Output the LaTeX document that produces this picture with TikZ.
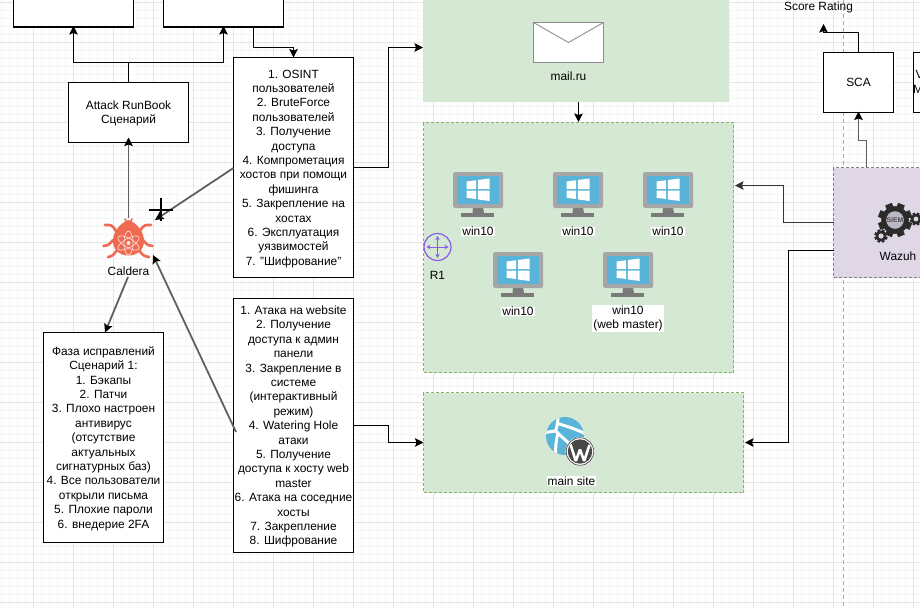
\documentclass[tikz,border=0pt]{standalone}
\usepackage{fontspec}
\setmainfont{Liberation Sans}
\usetikzlibrary{arrows.meta,calc}
\definecolor{grn}{HTML}{D5E8D4}
\definecolor{grnl}{HTML}{82B366}
\definecolor{lil}{HTML}{DFD6E6}
\definecolor{monout}{HTML}{A6A6A6}
\definecolor{monst}{HTML}{7A7A7A}
\definecolor{scr}{HTML}{59B4D9}
\definecolor{bug}{HTML}{EF6A50}
\definecolor{purp}{HTML}{8A5CE6}
\definecolor{gearc}{HTML}{2B2B2B}
\newcommand{\firstline}{\rule{0pt}{10.8pt}}
\tikzset{
  x=1pt,y=-1pt,
  every node/.style={font=\fontsize{11.9}{14.4}\selectfont,inner sep=0pt,outer sep=0pt,align=center,text=black},
  textbox/.style={draw=black,fill=white,line width=1.1pt,minimum width=120pt},
  area/.style={fill=grn,draw=grnl,dashed,dash pattern=on 3pt off 2pt,line width=.8pt},
  plainarea/.style={fill=grn},
  lbl/.style={fill=white,inner xsep=1pt,inner ysep=.5pt},
  conn/.style={draw=black,line width=1.1pt,-{Stealth[length=8.5pt,width=8.5pt,inset=1.5pt]}},
  plain/.style={draw=black,line width=1.1pt},
  gconn/.style={draw=black!62,line width=1.8pt,-{Stealth[length=8.5pt,width=8.5pt,inset=1.5pt,color=black]}},
  monitor/.pic={
    \fill[monst] (-5,35) -- (5,35) -- (6,41) -- (-5.5,41) -- cycle;
    \fill[monst] (-17,41) rectangle (16,44.5);
    \fill[monout,rounded corners=1.5pt] (-25,0) rectangle (25,36);
    \fill[scr] (-21,4) rectangle (21,32);
    \fill[white] (-11.5,9.5) -- (-2,8.3) -- (-2,17) -- (-11.5,17) -- cycle;
    \fill[white] (-.2,8) -- (11.5,6.5) -- (11.5,17) -- (-.2,17) -- cycle;
    \fill[white] (-11.5,18.7) -- (-2,18.7) -- (-2,27) -- (-11.5,25.8) -- cycle;
    \fill[white] (-.2,18.7) -- (11.5,18.7) -- (11.5,29) -- (-.2,27.4) -- cycle;
  },
  gearshape/.pic={
    \foreach \a in {0,45,...,315}{\fill[gearc,rotate=\a+22.5] (-.26,-1.24) rectangle (.26,0);}
    \fill[gearc] (0,0) circle (1);
  }
}
\begin{document}
\begin{tikzpicture}
\useasboundingbox (0,0) rectangle (920,608);
\clip (0,0) rectangle (920,608);
\fill[white] (0,0) rectangle (920,608);
% grid
\foreach \v in {1,9,...,913}{\draw[black!4,line width=.6pt] (\v,0) -- (\v,608);}
\foreach \v in {2,10,...,602}{\draw[black!4,line width=.6pt] (0,\v) -- (920,\v);}
\foreach \v in {33,73,...,913}{\draw[black!10,line width=.8pt] (\v,0) -- (\v,608);}
\foreach \v in {2,42,...,602}{\draw[black!10,line width=.8pt] (0,\v) -- (920,\v);}
\draw[black!35,dashed,dash pattern=on 4pt off 3pt,line width=.8pt] (843,0) -- (843,608);
% areas
\node[plainarea,minimum width=305.5pt,minimum height=109pt] (mail) at (575.75,47.5) {};
\node[area,minimum width=310pt,minimum height=250pt] (win) at (578.5,247.5) {};
\node[area,minimum width=320pt,minimum height=100pt] (site) at (583.5,442.5) {};
\node[fill=lil,draw=black!50,dashed,dash pattern=on 3pt off 2pt,line width=.8pt,minimum width=130pt,minimum height=110pt] (wazuh) at (898.5,222.5) {};
% text boxes
\node[textbox,minimum height=60pt] (tl) at (73.5,-3) {};
\node[textbox,minimum height=60pt] (tr) at (223.5,-3) {};
\node[textbox,minimum height=60pt] (attack) at (128.5,112.5) {\firstline Attack RunBook\\Сценарий};
\node[textbox,minimum height=220pt] (phish) at (293.5,167.5) {\firstline 1. OSINT\\пользователей\\2. BruteForce\\пользователей\\3. Получение\\доступа\\4. Компрометация\\хостов при помощи\\фишинга\\5. Закрепление на\\хостах\\6. Эксплуатация\\уязвимостей\\7. "Шифрование"};
\node[textbox,minimum height=254pt] (web) at (293.5,425.5) {\firstline 1. Атака на website\\2. Получение\\доступа к админ\\панели\\3. Закрепление в\\системе\\(интерактивный\\режим)\\4. Watering Hole\\атаки\\5. Получение\\доступа к хосту web\\master\\6. Атака на соседние\\хосты\\7. Закрепление\\8. Шифрование};
\node[textbox,minimum height=210pt] (fix) at (103.5,437.5) {\firstline Фаза исправлений\\Сценарий 1:\\1. Бэкапы\\2. Патчи\\3. Плохо настроен\\антивирус\\(отсутствие\\актуальных\\сигнатурных баз)\\4. Все пользователи\\открыли письма\\5. Плохие пароли\\6. внедерие 2FA};
\node[textbox,minimum width=70pt,minimum height=60pt] (sca) at (858.5,82.5) {SCA};
\node[textbox,minimum width=70pt,minimum height=60pt] (vm) at (948.5,82.5) {};
\node[anchor=west] (vmv) at (915.5,74.5) {V};
\node[anchor=west] (vmm) at (913,89) {M};
\node (score) at (818.5,7) {Score Rating};
% envelope
\node[draw=black!45,fill=white,line width=1pt,minimum width=70pt,minimum height=40pt] (env) at (568.5,42.5) {};
\draw[black!45,line width=.9pt] (env.north west) -- (568.5,42.5) -- (env.north east);
\node (maillbl) at (568.5,76) {mail.ru};
% monitors
\pic at (478,172) {monitor};
\pic at (578,172) {monitor};
\pic at (668,172) {monitor};
\pic at (518,252) {monitor};
\pic at (628,252) {monitor};
\node[lbl] (w1) at (478,231.5) {win10};
\node[lbl] (w2) at (578,231.5) {win10};
\node[lbl] (w3) at (668,231.5) {win10};
\node[lbl] (w4) at (518,311.5) {win10};
\node[lbl] (w5) at (628,318.5) {win10\\(web master)};
% router
\node[circle,draw=purp,line width=1.2pt,minimum size=27pt] (r1) at (437.5,247) {};
\draw[purp,line width=1pt,{Stealth[length=4pt,width=4.5pt]}-{Stealth[length=4pt,width=4.5pt]}] (426.5,247) -- (448.5,247);
\draw[purp,line width=1pt,{Stealth[length=4pt,width=4.5pt]}-{Stealth[length=4pt,width=4.5pt]}] (437.5,236) -- (437.5,258);
\node (r1l) at (437.5,275) {R1};
% site icon
\fill[scr] (565,436) circle (19);
\begin{scope}
\clip (565,436) circle (19);
\draw[white,line width=3pt] (558,416) .. controls (558,422) and (557,427) .. (555.5,431) .. controls (553,431.5) and (549,431.5) .. (544,433);
\draw[white,line width=3pt] (555.5,431) .. controls (560,435) and (564,439) .. (570,444);
\draw[white,line width=3pt] (556,423) .. controls (566,426) and (576,429) .. (588,435);
\draw[white,line width=3pt] (558,433) .. controls (556,441) and (555,448) .. (556,456);
\end{scope}
\fill[white] (580,451.5) circle (14.5);
\draw[black!65,line width=.8pt] (580,451.5) circle (13.8);
\fill[black!72] (580,451.5) circle (12.2);
\draw[white,line width=2.6pt,line join=bevel] (570.5,444.5) -- (575.8,461) -- (580,449.5) -- (584.2,461) -- (589.5,445);
\node[lbl] (sitel) at (571.5,481) {main site};
% caldera bug
\begin{scope}[draw=bug,line width=2.6pt,line cap=round]
\draw (116,231) .. controls (112,224) and (110,225) .. (105,225);
\draw (140,231) .. controls (144,224) and (146,225) .. (151,225);
\draw (113,240) .. controls (108,246) and (108,245) .. (103.5,246);
\draw (143,240) .. controls (148,246) and (148,245) .. (152.5,246);
\draw (117,250) .. controls (113,256) and (112,256) .. (108,257);
\draw (139,250) .. controls (143,256) and (144,256) .. (149,257);
\draw[line width=1.6pt] (126,221) -- (125,219);
\draw[line width=1.6pt] (131,221) -- (132,219);
\end{scope}
\fill[bug] (128.5,220) .. controls (137,223) and (144,232) .. (144,241) .. controls (144,250) and (137,255.5) .. (128.5,255.5) .. controls (120,255.5) and (113,250) .. (113,241) .. controls (113,232) and (120,223) .. (128.5,220) -- cycle;
\begin{scope}[draw=white!75!bug,line width=.7pt]
\draw[rotate around={30:(128.5,243)}] (128.5,243) ellipse (12 and 4.5);
\draw[rotate around={-30:(128.5,243)}] (128.5,243) ellipse (12 and 4.5);
\draw (128.5,243) ellipse (4.5 and 12);
\end{scope}
\fill[white!85!bug] (128.5,243) circle (2);
\node (cald) at (128.5,271.5) {Caldera};
% wazuh icon
\pic[scale=13.8] at (895,220) {gearshape};
\fill[black!15!lil] (895,220) circle (8.8);
\node[font=\fontsize{6.8}{8}\selectfont\bfseries,text=black!70] (siem) at (895,220) {SIEM};
\pic[scale=5.4] at (881,236) {gearshape};
\fill[lil] (881,236) circle (2.6);
\pic[scale=5.2] at (916,219) {gearshape};
\fill[lil] (916,219) circle (2.4);
\node (wazl) at (898,256) {Wazuh};
% connectors
\coordinate (c1) at (155,220);
\coordinate (c2) at (153,255);
\coordinate (c3) at (236,432);
\coordinate (c4) at (233.5,168);
\draw[plain] (attack.north) -- (128.5,62.5);
\draw[conn] (128.5,62.5) -| ([yshift=1pt]tl.south);
\draw[conn] (128.5,62.5) -| ([yshift=1pt]tr.south);
\draw[conn] (253.5,27) |- (293.5,47.5) -- (phish.north);
\draw[conn] (353.5,167.5) -| (388.5,47.5) -- (mail.west);
\draw[conn] (353.5,425.5) -| (388.5,442.5) -- (site.west);
\draw[gconn] (128.5,218) -- ([yshift=5pt]attack.south);
\draw[gconn] (c4) -- (c1);
\draw[gconn] (c3) -- (c2);
\draw[gconn] (128,277) -- ([xshift=1.5pt]fix.north);
\draw[conn] (578.5,102) -- (578.5,122);
\draw[conn,draw=black!80] (833.5,222.5) -| (783.5,185.5) -- (735,185.5);
\draw[conn] (833.5,250.5) -| (788.5,442.5) -- (745,442.5);
\draw[gconn] (866.5,167) |- (858.5,140.5) -- ([yshift=1pt]sca.south);
\draw[conn] (sca.north) |- (823.5,32.5) -- (823.5,24);
% cursor
\draw[black,line width=2pt] (149,210) -- (173,210);
\draw[black,line width=2pt] (160.5,198) -- (160.5,221);
\end{tikzpicture}
\end{document}
